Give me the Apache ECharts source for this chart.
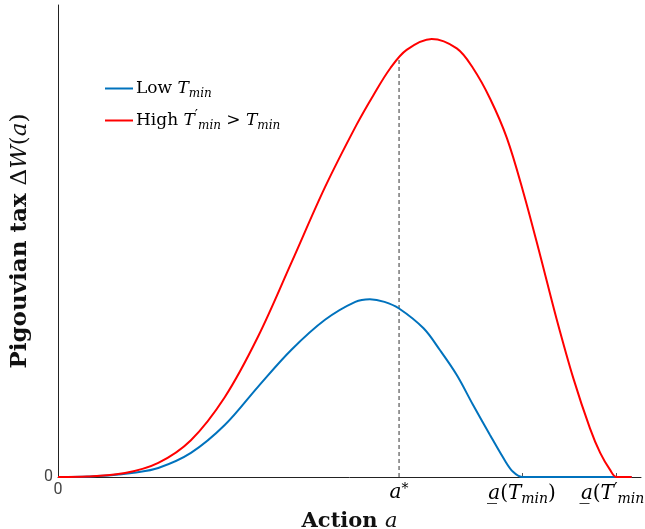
<!DOCTYPE html>
<html>
<head>
<meta charset="utf-8">
<script src="https://cdn.jsdelivr.net/npm/echarts@6/dist/echarts.min.js"></script>
<style>
html,body{margin:0;padding:0;background:#fff;}
#chart{width:645px;height:529px;}
</style>
</head>
<body>
<div id="chart"></div>
<script>
// Low T_min curve (blue)
const lowX = [0, 4, 8.6, 13, 17.2, 22.8, 28.6, 34.3, 40.0, 45.8, 51.0, 53.5, 56.0, 58.5, 62.7, 65.5, 68.4, 71.2, 74.1, 76.7, 78.05, 79.6, 84, 90, 98.4];
const lowY = [0, 0.05, 0.3, 0.9, 1.9, 5.1, 11.0, 19.1, 26.9, 33.3, 37.1, 37.65, 37.1, 35.7, 31.5, 26.9, 21.6, 15.25, 8.9, 3.4, 1.1, 0, 0, 0, 0];
// High T'_min curve (red)
const highX = [0, 5, 11.5, 17.2, 22.8, 28.6, 34.3, 40.0, 45.8, 51.2, 54.1, 57.0, 59.8, 64.1, 68.4, 71.2, 74.1, 77.0, 79.8, 82.7, 85.5, 88.4, 91.25, 93.0, 94.7, 95.8, 97, 98.4];
const highY = [0, 0.1, 0.85, 3.0, 7.8, 16.9, 29.7, 45.3, 61.4, 74.6, 80.9, 86.6, 90.5, 92.8, 90.8, 86.6, 80.2, 71.8, 60.4, 47.0, 33.6, 20.9, 10.3, 5.1, 1.5, 0, 0, 0];
// a* marker
const aStar = 58.5;
const aStarTop = 88.9;
// x tick positions and labels
const xTickValues = [0, 58.5, 79.6, 95.8];
const xTickLabels = [
  '{z|0}',
  '{i|a}{sup|*}',
  '{i|a\u0332}{n|(}{i|T}{sub|min}{n|)}',
  '{i|a\u0332}{n|(}{i|T}{pr|\u2032}{sub|min}{n|)}'
];
const seriesNames = ['Low', 'High'];

const chart = echarts.init(document.getElementById('chart'), null, {renderer: 'canvas'});
const serif = '"DejaVu Serif", "Liberation Serif", serif';
function richSet(fs, ss) {
  return {
    n: {fontFamily: serif, fontSize: fs, color: '#000'},
    i: {fontFamily: serif, fontStyle: 'italic', fontSize: fs, color: '#000'},
    sub: {fontFamily: serif, fontStyle: 'italic', fontSize: ss, color: '#000', verticalAlign: 'bottom', padding: [10, 0, 0, 0]},
    sup: {fontFamily: serif, fontSize: ss, color: '#000', verticalAlign: 'top', padding: [0, 0, 8, 0]},
    pr: {fontFamily: serif, fontSize: ss + 2, color: '#000', verticalAlign: 'top', padding: [0, 0, 8, 0]},
    z: {fontFamily: 'Roboto', fontSize: 16, color: '#444'}
  };
}

const option = {
  animation: false,
  backgroundColor: '#fff',
  grid: {left: 58, right: 4, top: 5, bottom: 52, containLabel: false, outerBoundsMode: 'none'},
  legend: {
    orient: 'vertical',
    left: 100,
    top: 75,
    itemWidth: 28,
    itemHeight: 2,
    itemGap: 10,
    icon: 'rect',
    data: seriesNames,
    formatter: function (name) {
      if (name === 'Low') return '{n|Low }{i|T}{sub|min}';
      return '{n|High }{i|T}{pr|\u2032}{sub|min}{n| > }{i|T}{sub|min}';
    },
    textStyle: {rich: richSet(17, 12), padding: [0, 0, 0, -2]}
  },
  xAxis: {
    type: 'value',
    min: 0,
    max: 100,
    name: '{b|Action }{bi|a}',
    nameLocation: 'middle',
    nameGap: 33,
    nameTextStyle: {
      rich: {
        b: {fontFamily: serif, fontWeight: 'bold', fontSize: 21, color: '#111'},
        bi: {fontFamily: serif, fontStyle: 'italic', fontSize: 21, color: '#111'}
      }
    },
    axisLine: {show: true, onZero: false, lineStyle: {color: '#222', width: 1}},
    axisTick: {show: true, inside: true, length: 4, customValues: [79.6, 95.8], lineStyle: {color: '#555'}},
    splitLine: {show: false},
    axisLabel: {
      customValues: xTickValues,
      margin: 5,
      formatter: function (v) {
        let best = 0;
        for (let k = 0; k < xTickValues.length; k++) {
          if (Math.abs(xTickValues[k] - v) < Math.abs(xTickValues[best] - v)) best = k;
        }
        return xTickLabels[best];
      },
      rich: richSet(20, 14)
    }
  },
  yAxis: {
    type: 'value',
    min: 0,
    max: 100,
    name: '{b|Pigouvian tax }{n|\u0394}{bi|W}{n|(}{bi|a}{n|)}',
    nameLocation: 'middle',
    nameGap: 26,
    nameRotate: 90,
    nameTextStyle: {
      rich: {
        b: {fontFamily: serif, fontWeight: 'bold', fontSize: 23, color: '#111'},
        n: {fontFamily: serif, fontSize: 23, color: '#111'},
        bi: {fontFamily: serif, fontStyle: 'italic', fontSize: 23, color: '#111'}
      }
    },
    axisLine: {show: true, onZero: false, lineStyle: {color: '#222', width: 1}},
    axisTick: {show: false},
    splitLine: {show: false},
    axisLabel: {customValues: [0], margin: 5, fontFamily: 'Roboto', fontSize: 16, color: '#444'}
  },
  series: [
    {
      name: 'Low',
      type: 'line',
      data: lowX.map((x, k) => [x, lowY[k]]),
      smooth: 0.35,
      smoothConstraint: false,
      showSymbol: false,
      color: '#0072BD',
      lineStyle: {width: 2, color: '#0072BD'},
      z: 2
    },
    {
      name: 'High',
      type: 'line',
      data: highX.map((x, k) => [x, highY[k]]),
      smooth: 0.35,
      smoothConstraint: false,
      showSymbol: false,
      color: '#FF0000',
      lineStyle: {width: 2, color: '#FF0000'},
      z: 3
    },
    {
      name: 'astar',
      type: 'line',
      data: [[aStar, 0], [aStar, aStarTop]],
      showSymbol: false,
      lineStyle: {width: 1.2, color: '#555', type: [4, 3]},
      z: 1,
      silent: true
    }
  ]
};
chart.setOption(option);
</script>
</body>
</html>
